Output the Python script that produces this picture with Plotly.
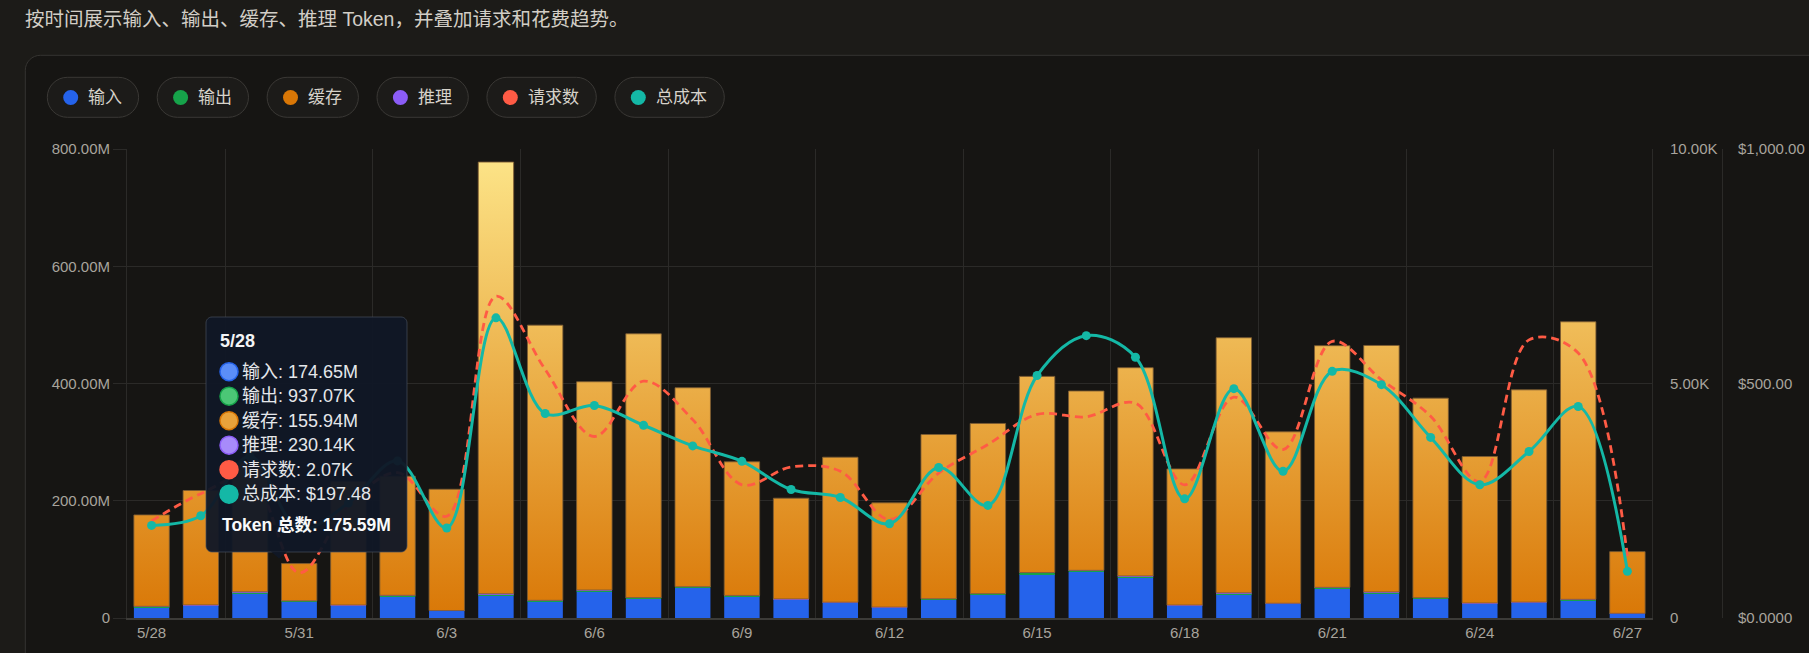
"""Token usage by day: stacked token bars with request and cost trend lines"""

import plotly.graph_objects as go

# ---- data (tokens in millions, requests as counts, cost in dollars) ----
dates = [
    "5/28", "5/29", "5/30", "5/31", "6/1", "6/2", "6/3", "6/4", "6/5", "6/6",
    "6/7", "6/8", "6/9", "6/10", "6/11", "6/12", "6/13", "6/14", "6/15", "6/16",
    "6/17", "6/18", "6/19", "6/20", "6/21", "6/22", "6/23", "6/24", "6/25", "6/26",
    "6/27",
]
# input tokens, cache included (as shown in the tooltip)
input_m = [
    174.65, 216.1, 263.4, 92.0, 231.6, 240.2, 218.9, 775.1, 497.8, 400.7,
    482.9, 390.6, 264.9, 203.1, 272.9, 195.4, 311.5, 330.1, 409.6, 384.4,
    424.5, 253.2, 476.0, 316.3, 462.2, 463.0, 373.4, 274.2, 387.7, 503.5,
    112.7,
]
output_m = [
    0.93707, 1.1, 1.6, 0.7, 0.9, 1.3, 0.6, 2.1, 1.4, 1.8,
    1.5, 1.7, 1.2, 1.0, 1.1, 0.8, 1.2, 1.4, 2.0, 2.2,
    1.9, 0.9, 1.6, 1.0, 1.8, 1.5, 1.3, 1.0, 1.2, 1.4,
    0.4,
]
cache_m = [
    155.94, 195.1, 220.8, 63.6, 210.6, 203.2, 206.9, 736.4, 469.4, 355.2,
    449.9, 339.4, 227.9, 171.8, 247.3, 177.8, 280.2, 290.3, 334.6, 305.9,
    355.1, 232.2, 435.1, 292.4, 412.2, 420.4, 340.4, 249.8, 362.1, 473.4,
    105.3,
]
reasoning_m = [
    0.23014, 0.28, 0.41, 0.15, 0.22, 0.35, 0.12, 0.52, 0.33, 0.46,
    0.38, 0.44, 0.30, 0.26, 0.27, 0.19, 0.31, 0.36, 0.55, 0.60,
    0.50, 0.21, 0.42, 0.25, 0.47, 0.40, 0.33, 0.24, 0.29, 0.35,
    0.09,
]
requests = [
    2070, 2650, 3000, 960, 2400, 3100, 2170, 6860, 5300, 3870,
    5050, 4230, 2840, 3220, 3130, 2100, 3090, 3700, 4340, 4290,
    4580, 2840, 4710, 3590, 5900, 5080, 4300, 2910, 5930, 5650,
    1310,
]
cost = [
    197.48, 218, 345, 190, 245, 335, 192, 640, 436, 453,
    411, 367, 334, 274, 257, 201, 321, 240, 517, 602,
    556, 254, 489, 313, 526, 497.5, 385, 284, 355, 451,
    99.5,
]
hover_day = 0  # the day the tooltip is showing

token_ticks = [0, 200, 400, 600, 800]
token_ticktext = ["0", "200.00M", "400.00M", "600.00M", "800.00M"]
req_ticks = [0, 5000, 10000]
req_ticktext = ["0", "5.00K", "10.00K"]
cost_ticks = [0, 500, 1000]
cost_ticktext = ["$0.0000", "$500.00", "$1,000.00"]

series_names = ["输入", "输出", "缓存", "推理", "请求数", "总成本"]
series_colors = ["#2563eb", "#16a34a", "#d97706", "#8b5cf6", "#ff5b45", "#14b8a6"]
tip_fills = ["#5b8ef8", "#4bc776", "#e9a23b", "#a78bfa", "#ff5b45", "#14b8a6"]

# ---- page geometry (pixels) ----
W, H = 1809, 653
ML, MR, MT, MB = 127, 87, 149, 35
PLOT_RIGHT = 1652  # right edge of the bar area; the cost axis sits at W - MR
FONT = '"Liberation Sans", Arial, "Noto Sans CJK SC", sans-serif'
GRID = "#2b2a28"


def px_x(x):
    return (x - ML) / (W - ML - MR)


def px_y(y):
    return (H - MB - y) / (H - MT - MB)


def pixel_path(x0, y0, path, fill, line, width=1, layer="below"):
    """path in pixels relative to screen point (x0, y0), y pointing up"""
    fig.add_shape(
        type="path", xref="paper", yref="paper",
        xsizemode="pixel", ysizemode="pixel",
        xanchor=px_x(x0), yanchor=px_y(y0), path=path,
        fillcolor=fill, line=dict(color=line, width=width), layer=layer,
    )


def rounded_box(x0, y0, x1, y1, r, fill, line, width=1, layer="below"):
    """rounded rectangle given in screen pixels"""
    w, h, k = x1 - x0, y1 - y0, 0.5523 * r
    path = (
        f"M {r} 0 L {w - r} 0 C {w - r + k} 0 {w} {-r + k} {w} {-r} "
        f"L {w} {-(h - r)} C {w} {-(h - r) - k} {w - r + k} {-h} {w - r} {-h} "
        f"L {r} {-h} C {r - k} {-h} 0 {-(h - r) - k} 0 {-(h - r)} "
        f"L 0 {-r} C 0 {-r + k} {r - k} 0 {r} 0 Z"
    )
    pixel_path(x0, y0, path, fill, line, width, layer)


def dot(cx, cy, d, fill, line=None, width=0, layer="above"):
    fig.add_shape(
        type="circle", xref="paper", yref="paper",
        xsizemode="pixel", ysizemode="pixel",
        xanchor=px_x(cx), yanchor=px_y(cy),
        x0=-d / 2, x1=d / 2, y0=-d / 2, y1=d / 2,
        fillcolor=fill, line=dict(color=line or fill, width=width), layer=layer,
    )


def text(x, y, s, size, color, bold=False):
    fig.add_annotation(
        x=px_x(x), y=px_y(y), xref="paper", yref="paper",
        text=f"<b>{s}</b>" if bold else s, showarrow=False,
        xanchor="left", yanchor="middle", borderpad=0, borderwidth=0,
        font=dict(size=size, color=color, family=FONT),
    )


def fmt_tokens(m):
    return f"{m:.2f}M" if m >= 1 else f"{m * 1000:.2f}K"


fig = go.Figure()

idx = list(range(len(dates)))
bar_w = 0.72
uncached = [i - c for i, c in zip(input_m, cache_m)]
below_reason = [u + o for u, o in zip(uncached, output_m)]
below_cache = [b + r for b, r in zip(below_reason, reasoning_m)]
cache_top = [b + c for b, c in zip(below_cache, cache_m)]

fig.add_trace(go.Bar(
    x=idx, y=uncached, base=0, width=bar_w, name="输入",
    marker=dict(color=series_colors[0], line=dict(width=0)), hoverinfo="skip",
))
fig.add_trace(go.Bar(
    x=idx, y=output_m, base=uncached, width=bar_w, name="输出",
    marker=dict(color=series_colors[1], line=dict(width=0)), hoverinfo="skip",
))
fig.add_trace(go.Bar(
    x=idx, y=reasoning_m, base=below_reason, width=bar_w, name="推理",
    marker=dict(color=series_colors[3], line=dict(width=0)), hoverinfo="skip",
))

# cache bars as filled rectangles so they can share one vertical gradient
cx, cy = [], []
for i, lo, hi in zip(idx, below_cache, cache_top):
    cx += [i - bar_w / 2, i + bar_w / 2, i + bar_w / 2, i - bar_w / 2, i - bar_w / 2, None]
    cy += [lo, lo, hi, hi, lo, None]
fig.add_trace(go.Scatter(
    x=cx, y=cy, mode="lines", fill="toself", name="缓存",
    line=dict(color="rgba(125,92,50,0.85)", width=1),
    fillgradient=dict(
        type="vertical", colorscale=[[0, "#d97706"], [1, "#fde68a"]],
        start=0, stop=800,
    ),
    hoverinfo="skip",
))

fig.add_trace(go.Scatter(
    x=idx, y=requests, yaxis="y2", mode="lines", name="请求数",
    line=dict(color=series_colors[4], width=2.8, dash="8px,5px",
              shape="spline", smoothing=1),
    hoverinfo="skip",
))
fig.add_trace(go.Scatter(
    x=idx, y=cost, yaxis="y3", mode="lines+markers", name="总成本",
    line=dict(color=series_colors[5], width=3, shape="spline", smoothing=1),
    marker=dict(size=9, color=series_colors[5]),
    hoverinfo="skip",
))

x_end = (PLOT_RIGHT - ML) / (W - ML - MR)
fig.update_layout(
    width=W, height=H,
    margin=dict(l=ML, r=MR, t=MT, b=MB, autoexpand=False),
    paper_bgcolor="#1c1b18", plot_bgcolor="rgba(0,0,0,0)",
    barmode="overlay", showlegend=False, hovermode=False,
    font=dict(family=FONT, size=15, color="#a8a49d"),
    xaxis=dict(
        domain=[0, x_end], range=[-0.5, len(dates) - 0.5], automargin=False,
        tickmode="array", tickvals=idx[::3], ticktext=dates[::3],
        showgrid=False, zeroline=False, ticks="",
        showline=True, linecolor="#3c3b38", linewidth=2,
        minor=dict(tickmode="array", tickvals=[i + 0.5 for i in idx[1::3]][:10],
                   showgrid=True, gridcolor=GRID, gridwidth=1, ticks=""),
    ),
    yaxis=dict(
        range=[0, 800], automargin=False,
        tickmode="array", tickvals=token_ticks, ticktext=token_ticktext,
        showgrid=True, gridcolor=GRID, zeroline=False,
        showline=True, linecolor=GRID, ticks="outside", ticklen=13, tickcolor=GRID,
    ),
    yaxis2=dict(
        overlaying="y", side="right", anchor="x", range=[0, 10000], automargin=False,
        tickmode="array", tickvals=req_ticks, ticktext=req_ticktext,
        showgrid=False, zeroline=False, showline=True, linecolor=GRID,
        ticks="", ticklabelstandoff=14,
    ),
    yaxis3=dict(
        overlaying="y", side="right", anchor="free", position=1.0, range=[0, 1000],
        automargin=False,
        tickmode="array", tickvals=cost_ticks, ticktext=cost_ticktext,
        showgrid=False, zeroline=False, showline=True, linecolor=GRID,
        ticks="", ticklabelstandoff=12,
    ),
)

# card, subtitle and legend pills
rounded_box(25.3, 55.3, 1840, 720, 15, "#161513", "#353431")
text(25, 18.5, "按时间展示输入、输出、缓存、推理 Token，并叠加请求和花费趋势。", 19.5, "#d2cec6")
left = 47.3
for name, color in zip(series_names, series_colors):
    w = 91.3 if len(name) == 2 else 109.4
    rounded_box(left, 77.3, left + w, 117.3, 20, "#1c1b19", "#3a3835")
    dot(left + 23.4, 97.5, 15, color, layer="below")
    text(left + 41, 97.5, name, 17, "#d6d2ca")
    left += w + 18.6

# static tooltip for the hovered day, with its small pointer below
rounded_box(206, 317, 407, 552, 6, "rgba(17,24,39,0.96)", "rgba(70,78,92,0.7)", layer="above")
pixel_path(271, 551.5, "M 0 0 L 16 0 L 8 -7 Z", "rgba(17,24,39,0.96)", "rgba(0,0,0,0)", 0, "above")
tip_values = [
    fmt_tokens(input_m[hover_day]),
    fmt_tokens(output_m[hover_day]),
    fmt_tokens(cache_m[hover_day]),
    fmt_tokens(reasoning_m[hover_day]),
    f"{requests[hover_day] / 1000:.2f}K",
    f"${cost[hover_day]:.2f}",
]
text(220, 341, dates[hover_day], 18, "#f3f4f6", bold=True)
row_y = 371.7
for name, value, fill, ring in zip(series_names, tip_values, tip_fills, series_colors):
    dot(229, row_y, 18, fill, ring, 1.5)
    text(241.5, row_y, f"{name}: {value}", 18, "#e5e7eb")
    row_y += 24.5
total_tokens = input_m[hover_day] + output_m[hover_day]
text(221.5, 525, f"Token 总数: {total_tokens:.2f}M", 17.5, "#f9fafb", bold=True)

# the page body keeps its default 8px margin otherwise
fig.write_html(
    "out.html",
    config={"displayModeBar": False},
    post_script="document.body.style.margin = '0';",
)
